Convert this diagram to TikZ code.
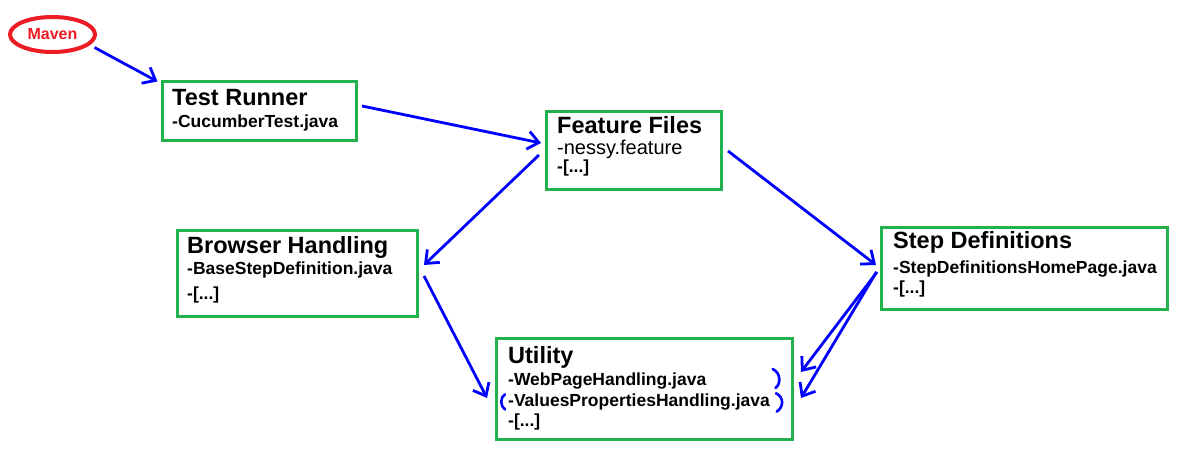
\documentclass[tikz,border=0pt]{standalone}
\usepackage{fontspec}
\setmainfont{Liberation Sans}
\usetikzlibrary{arrows.meta,shapes.geometric}
\definecolor{pgreen}{HTML}{22B14C}
\definecolor{pred}{HTML}{ED1C24}
\definecolor{pblue}{HTML}{0000FF}
\tikzset{
 box/.style={draw=pgreen, line width=3pt, rectangle, outer sep=0pt, inner sep=0pt},
 ttl/.style={anchor=base west, inner sep=0pt, font=\fontsize{23.5}{28}\selectfont\bfseries},
 itm/.style={anchor=base west, inner sep=0pt, font=\fontsize{17.5}{21}\selectfont\bfseries},
 itmr/.style={anchor=base west, inner sep=0pt, font=\fontsize{20}{24}\selectfont},
 arr/.style={draw=pblue, line width=2.8pt, -{Straight Barb[length=11pt,width=18pt]}},
 paren/.style={draw=pblue, line width=2.6pt, line cap=round},
}
\begin{document}
\begin{tikzpicture}[x=1pt,y=-1pt]
\useasboundingbox (0,0) rectangle (1192,465);
\fill[white] (0,0) rectangle (1192,465);
% Maven
\node[ellipse, draw=pred, line width=4pt, minimum width=85pt, minimum height=35pt, inner sep=0pt, outer sep=0pt, text=pred, font=\fontsize{16}{19}\selectfont\bfseries] (mv) at (52.5,34.5) {Maven};
% boxes
\node[box, minimum width=194pt, minimum height=59pt] (tr) at (259.5,111) {};
\node[box, minimum width=175pt, minimum height=78pt] (ff) at (634,150.5) {};
\node[box, minimum width=240pt, minimum height=86pt] (bh) at (297.5,273.5) {};
\node[box, minimum width=286pt, minimum height=82pt] (sd) at (1024.5,268.5) {};
\node[box, minimum width=296pt, minimum height=101pt] (ut) at (644.5,389) {};
% texts
\node[ttl] (trt) at (172,106) {Test Runner};
\node[itm] (tr1) at (172,128) {-CucumberTest.java};
\node[ttl] (fft) at (557,134) {Feature Files};
\node[itmr] (ff1) at (557,155) {-nessy.feature};
\node[itm] (ff2) at (557,173) {-[...]};
\node[ttl] (bht) at (187,254) {Browser Handling};
\node[itm] (bh1) at (187,275) {-BaseStepDefinition.java};
\node[itm] (bh2) at (187,300) {-[...]};
\node[ttl] (sdt) at (893,249) {Step Definitions};
\node[itm] (sd1) at (893,273) {-StepDefinitionsHomePage.java};
\node[itm] (sd2) at (893,294) {-[...]};
\node[ttl] (utt) at (508,363) {Utility};
\node[itm] (ut1) at (508,385) {-WebPageHandling.java};
\node[itm] (ut2) at (508,406) {-ValuesPropertiesHandling.java};
\node[itm] (ut3) at (508,426) {-[...]};
% arrows
\draw[arr] ([xshift=42pt,yshift=-13pt]mv.center) -- ([xshift=-5pt,yshift=0pt]tr.north west);
\draw[arr] ([xshift=5.5pt,yshift=5pt]tr.east) -- ([xshift=-5.5pt,yshift=7.5pt]ff.west);
\draw[arr] ([xshift=-7.5pt,yshift=-4.5pt]ff.west) -- ([xshift=6.5pt,yshift=8.5pt]bh.east);
\draw[arr] ([xshift=6.5pt,yshift=-0.5pt]ff.east) -- ([xshift=-5.5pt,yshift=3.5pt]sd.west);
\draw[arr] ([xshift=6.5pt,yshift=-2.5pt]bh.east) -- ([xshift=-9.5pt,yshift=-9pt]ut.west);
\draw[arr] ([xshift=-4.5pt,yshift=-3.5pt]sd.west) -- ([xshift=8.5pt,yshift=17pt]ut.east);
\draw[arr] ([xshift=-5pt,yshift=-3.5pt]sd.west) -- ([xshift=8.5pt,yshift=-9pt]ut.east);
% hand-drawn parentheses
\draw[paren] (772.7,369) .. controls (781,373) and (781,384) .. (775.5,388);
\draw[paren] (505,394.3) .. controls (500,397) and (500,406) .. (505,409.5);
\draw[paren] (776,393.3) .. controls (784,397) and (784,407) .. (776.7,411.7);
\end{tikzpicture}
\end{document}
